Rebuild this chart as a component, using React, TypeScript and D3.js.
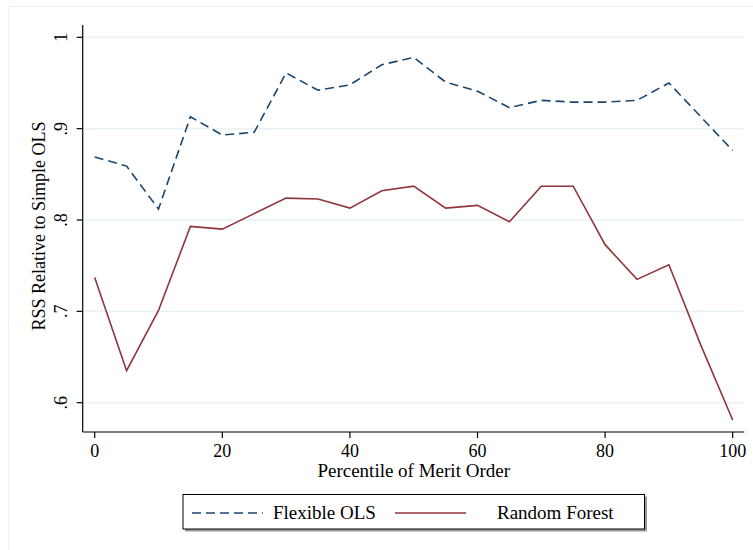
import React, { useEffect, useRef } from 'react';
import * as d3 from 'd3';

// percentile of merit order
const percentiles = [0, 5, 10, 15, 20, 25, 30, 35, 40, 45, 50, 55, 60, 65, 70, 75, 80, 85, 90, 95, 100];
const flexibleOLS = [0.869, 0.859, 0.812, 0.913, 0.893, 0.896, 0.961, 0.942, 0.948, 0.970, 0.978,
  0.951, 0.941, 0.923, 0.931, 0.929, 0.929, 0.931, 0.950, 0.913, 0.876];
const randomForest = [0.737, 0.635, 0.701, 0.793, 0.790, 0.807, 0.824, 0.823, 0.813, 0.832, 0.837,
  0.813, 0.816, 0.798, 0.837, 0.837, 0.773, 0.735, 0.751, 0.663, 0.581];
const xTicks = [0, 20, 40, 60, 80, 100];
const yTicks = [0.6, 0.7, 0.8, 0.9, 1];
const yTickLabels = ['.6', '.7', '.8', '.9', '1'];

const W = 753;
const H = 550;
const FONT = 'Liberation Serif, Times New Roman, serif';
const NAVY = '#1a476f';
const MAROON = '#90353b';

const App: React.FC = () => {
  const svgRef = useRef<SVGSVGElement | null>(null);

  useEffect(() => {
    const svg = d3.select(svgRef.current);
    svg.selectAll('*').remove();

    const x = d3.scaleLinear().domain([0, 100]).range([94.7, 732.7]);
    const y = d3.scaleLinear().domain([0.6, 1]).range([402.7, 37.3]);
    const axisX = 82.7;
    const axisY = 432;

    // outer graph region border
    svg.append('rect')
      .attr('x', 8.5).attr('y', 6.5)
      .attr('width', W + 20).attr('height', H + 20)
      .attr('fill', '#fff')
      .attr('stroke', '#eaf2f3')
      .attr('stroke-width', 1);

    // gridlines
    svg.append('g')
      .selectAll('line')
      .data(yTicks)
      .join('line')
      .attr('x1', axisX).attr('x2', 744)
      .attr('y1', d => y(d)).attr('y2', d => y(d))
      .attr('stroke', '#eaf2f3')
      .attr('stroke-width', 1.5);

    // axes
    svg.append('line')
      .attr('x1', axisX).attr('x2', axisX)
      .attr('y1', 25).attr('y2', axisY)
      .attr('stroke', '#000').attr('stroke-width', 1.2);
    svg.append('line')
      .attr('x1', axisX).attr('x2', 744.3)
      .attr('y1', axisY).attr('y2', axisY)
      .attr('stroke', '#000').attr('stroke-width', 1.2);

    // y ticks + labels
    const yt = svg.append('g').selectAll('g').data(yTicks).join('g');
    yt.append('line')
      .attr('x1', axisX - 6).attr('x2', axisX)
      .attr('y1', d => y(d)).attr('y2', d => y(d))
      .attr('stroke', '#000').attr('stroke-width', 1.2);
    yt.append('text')
      .attr('transform', d => `translate(67,${y(d)}) rotate(-90)`)
      .attr('text-anchor', 'middle')
      .attr('font-family', FONT)
      .attr('font-size', 18)
      .text((d, i) => yTickLabels[i]);

    // x ticks + labels
    const xt = svg.append('g').selectAll('g').data(xTicks).join('g');
    xt.append('line')
      .attr('x1', d => x(d)).attr('x2', d => x(d))
      .attr('y1', axisY).attr('y2', axisY + 6)
      .attr('stroke', '#000').attr('stroke-width', 1.2);
    xt.append('text')
      .attr('x', d => x(d)).attr('y', 457)
      .attr('text-anchor', 'middle')
      .attr('font-family', FONT)
      .attr('font-size', 18)
      .text(d => d);

    // axis titles
    svg.append('text')
      .attr('transform', `translate(45,226) rotate(-90)`)
      .attr('text-anchor', 'middle')
      .attr('font-family', FONT)
      .attr('font-size', 18)
      .text('RSS Relative to Simple OLS');
    svg.append('text')
      .attr('x', 413.7).attr('y', 477)
      .attr('text-anchor', 'middle')
      .attr('font-family', FONT)
      .attr('font-size', 19)
      .text('Percentile of Merit Order');

    // lines
    const line = d3.line<number>()
      .x((d, i) => x(percentiles[i]))
      .y(d => y(d));

    svg.append('path')
      .attr('d', line(randomForest))
      .attr('fill', 'none')
      .attr('stroke', MAROON)
      .attr('stroke-width', 1.6);
    svg.append('path')
      .attr('d', line(flexibleOLS))
      .attr('fill', 'none')
      .attr('stroke', NAVY)
      .attr('stroke-width', 1.6)
      .attr('stroke-dasharray', '9,5');

    // legend
    const lg = svg.append('g');
    lg.append('rect')
      .attr('x', 185).attr('y', 496.5)
      .attr('width', 462).attr('height', 35)
      .attr('fill', '#999');
    lg.append('rect')
      .attr('x', 183).attr('y', 494.5)
      .attr('width', 461.5).attr('height', 34.5)
      .attr('fill', '#fff')
      .attr('stroke', '#000')
      .attr('stroke-width', 1);
    lg.append('line')
      .attr('x1', 192).attr('x2', 263)
      .attr('y1', 513).attr('y2', 513)
      .attr('stroke', NAVY).attr('stroke-width', 1.6)
      .attr('stroke-dasharray', '9,5');
    lg.append('text')
      .attr('x', 273).attr('y', 519)
      .attr('font-family', FONT).attr('font-size', 19)
      .text('Flexible OLS');
    lg.append('line')
      .attr('x1', 395).attr('x2', 466)
      .attr('y1', 513).attr('y2', 513)
      .attr('stroke', MAROON).attr('stroke-width', 1.6);
    lg.append('text')
      .attr('x', 497).attr('y', 519)
      .attr('font-family', FONT).attr('font-size', 19)
      .text('Random Forest');

    return () => {
      svg.selectAll('*').remove();
    };
  }, []);

  return (
    <svg
      ref={svgRef}
      width={W}
      height={H}
      style={{ position: 'absolute', left: 0, top: 0, background: '#fff' }}
    />
  );
};

export default App;
